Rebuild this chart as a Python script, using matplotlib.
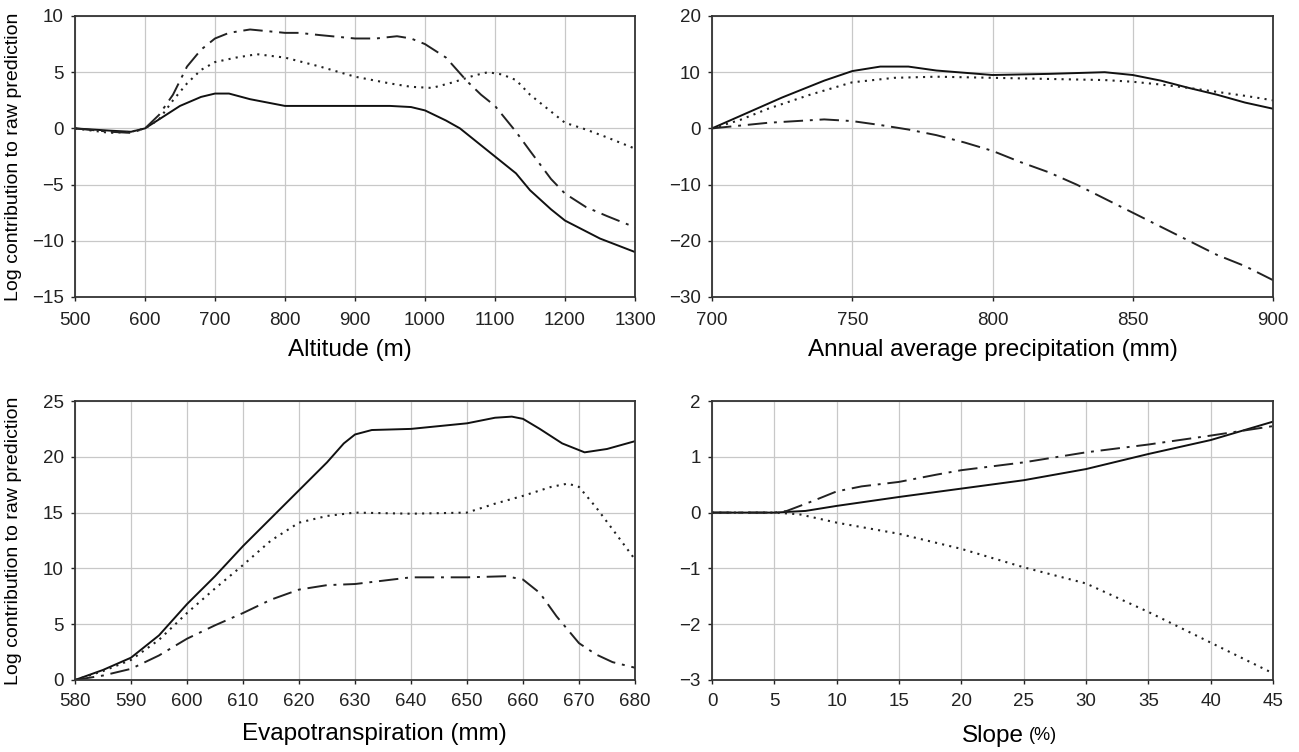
import numpy as np
import matplotlib.pyplot as plt

plt.rcParams['font.family'] = ['Liberation Sans', 'DejaVu Sans']

# --- Altitude panel ---
alt_x = [500, 550, 580, 600, 620, 650, 680, 700, 720, 750, 800, 850, 900, 950, 980, 1000,
         1030, 1050, 1080, 1100, 1130, 1150, 1180, 1200, 1250, 1300]
alt_solid = [0, -0.2, -0.3, 0, 0.8, 2.0, 2.8, 3.1, 3.1, 2.6, 2.0, 2.0, 2.0, 2.0, 1.9, 1.6,
             0.7, 0, -1.5, -2.5, -4.0, -5.5, -7.2, -8.2, -9.8, -11.0]
alt_dd_x = [500, 550, 580, 600, 620, 640, 660, 680, 700, 720, 750, 800, 820, 850, 900, 930,
            960, 980, 1000, 1030, 1060, 1080, 1100, 1130, 1150, 1180, 1200, 1230, 1260, 1300]
alt_dashdot = [0, -0.3, -0.4, 0, 1.2, 3.0, 5.5, 7.0, 8.0, 8.5, 8.8, 8.5, 8.5, 8.3, 8.0, 8.0,
               8.2, 8.0, 7.5, 6.3, 4.2, 3.0, 2.0, -0.3, -2.0, -4.5, -5.8, -7.0, -7.8, -8.8]
alt_dt_x = [500, 550, 580, 600, 620, 640, 660, 680, 700, 730, 760, 800, 850, 900, 950, 980,
            1010, 1040, 1070, 1090, 1110, 1130, 1150, 1180, 1200, 1230, 1260, 1300]
alt_dotted = [0, -0.4, -0.3, 0, 0.8, 2.5, 4.0, 5.2, 5.9, 6.3, 6.6, 6.3, 5.5, 4.6, 4.0, 3.7,
              3.6, 4.1, 4.7, 5.0, 4.8, 4.3, 3.0, 1.5, 0.5, -0.1, -0.8, -1.8]

# --- Precipitation panel ---
pr_sx = [700, 710, 725, 740, 750, 760, 770, 780, 800, 820, 840, 850, 860, 870, 880, 890, 900]
pr_solid = [0, 2.2, 5.5, 8.5, 10.2, 11.0, 11.0, 10.3, 9.5, 9.7, 10.0, 9.5, 8.5, 7.2, 6.0, 4.6, 3.5]
pr_tx = [700, 710, 720, 735, 750, 765, 780, 800, 820, 840, 850, 860, 870, 880, 890, 900]
pr_dotted = [0, 1.5, 3.5, 6.0, 8.2, 9.0, 9.2, 9.0, 8.8, 8.6, 8.3, 7.8, 7.2, 6.5, 5.8, 5.0]
pr_dx = [700, 720, 740, 750, 760, 770, 780, 790, 800, 810, 820, 830, 840, 850, 860, 870, 880, 890, 900]
pr_dashdot = [0, 1.0, 1.6, 1.3, 0.6, -0.2, -1.2, -2.5, -4.0, -6.0, -7.8, -10.0, -12.5, -15.0,
              -17.5, -20.0, -22.5, -24.5, -27.0]

# --- Evapotranspiration panel ---
ev_sx = [580, 585, 590, 595, 600, 605, 610, 615, 620, 625, 628, 630, 633, 640, 650, 655, 658,
         660, 663, 667, 671, 675, 680]
ev_solid = [0, 0.9, 2.0, 4.0, 6.8, 9.3, 12.0, 14.5, 17.0, 19.5, 21.2, 22.0, 22.4, 22.5, 23.0,
            23.5, 23.6, 23.4, 22.5, 21.2, 20.4, 20.7, 21.4]
ev_tx = [580, 585, 590, 595, 600, 605, 610, 615, 620, 625, 630, 640, 650, 655, 660, 665, 668,
         670, 673, 676, 680]
ev_dotted = [0, 0.8, 1.8, 3.6, 6.0, 8.2, 10.3, 12.5, 14.1, 14.7, 15.0, 14.9, 15.0, 15.8, 16.5,
             17.3, 17.6, 17.3, 15.5, 13.5, 10.8]
ev_dx = [580, 585, 590, 595, 600, 605, 610, 615, 620, 625, 630, 635, 640, 650, 657, 660, 663,
         666, 670, 673, 676, 680]
ev_dashdot = [0, 0.4, 1.0, 2.2, 3.7, 4.9, 6.0, 7.2, 8.1, 8.5, 8.6, 8.9, 9.2, 9.2, 9.3, 9.0, 7.8,
              5.7, 3.3, 2.3, 1.6, 1.1]

# --- Slope panel ---
sl_x = [0, 2, 5, 7.5, 10, 15, 20, 25, 30, 35, 40, 45]
sl_solid = [0, 0, 0, 0.03, 0.12, 0.28, 0.43, 0.58, 0.78, 1.05, 1.30, 1.63]
sl_dx = [0, 3, 5, 6, 8, 10, 12, 15, 18, 20, 25, 30, 35, 40, 45]
sl_dashdot = [0, 0, 0, 0.03, 0.2, 0.38, 0.47, 0.55, 0.68, 0.76, 0.90, 1.08, 1.22, 1.38, 1.55]
sl_tx = [0, 5, 7, 10, 15, 20, 25, 30, 35, 40, 45]
sl_dotted = [0, 0, -0.03, -0.18, -0.38, -0.65, -0.98, -1.27, -1.78, -2.33, -2.88]

DOT = (0, (1, 2.5))
DASHDOT = (0, (10, 3.5, 1.5, 3.5))

fig = plt.figure(figsize=(12.99, 7.52), dpi=100)
W, H = 1299, 752


def make_ax(l, t, r, b):
    return fig.add_axes([l / W, 1 - b / H, (r - l) / W, (b - t) / H])


axes = [make_ax(75, 16, 635, 297), make_ax(712, 16, 1273, 297),
        make_ax(75, 401, 635, 680), make_ax(712, 401, 1273, 680)]

panels = [
    (alt_x, alt_solid, alt_dt_x, alt_dotted, alt_dd_x, alt_dashdot,
     (500, 1300), np.arange(500, 1301, 100), (-15, 10), np.arange(-15, 11, 5)),
    (pr_sx, pr_solid, pr_tx, pr_dotted, pr_dx, pr_dashdot,
     (700, 900), np.arange(700, 901, 50), (-30, 20), np.arange(-30, 21, 10)),
    (ev_sx, ev_solid, ev_tx, ev_dotted, ev_dx, ev_dashdot,
     (580, 680), np.arange(580, 681, 10), (0, 25), np.arange(0, 26, 5)),
    (sl_x, sl_solid, sl_tx, sl_dotted, sl_dx, sl_dashdot,
     (0, 45), np.arange(0, 46, 5), (-3, 2), np.arange(-3, 3, 1)),
]

for i, (ax, p) in enumerate(zip(axes, panels)):
    sx, sy, tx, ty, dx, dy, xl, xt, yl, yt = p
    ax.plot(sx, sy, color='#111111', lw=1.4, ls='-')
    ax.plot(tx, ty, color='#222222', lw=1.5, ls=DOT)
    ax.plot(dx, dy, color='#222222', lw=1.4, ls=DASHDOT)
    ax.set_xlim(*xl)
    ax.set_ylim(*yl)
    ax.set_xticks(xt)
    ax.set_yticks(yt)
    ax.grid(True, color='#c8c8c8', lw=0.9)
    ax.set_axisbelow(True)
    for s in ax.spines.values():
        s.set_color('#333333')
        s.set_linewidth(1.3)
    ax.tick_params(length=3, width=1, labelsize=13.5, colors='#222222')
    ax.tick_params(axis='y', pad=5)
    ax.tick_params(axis='x', pad=8 if i < 2 else 6)

axes[0].set_xlabel('Altitude (m)', fontsize=17.5, labelpad=7)
axes[0].xaxis.label.set_x(0.491)
axes[1].set_xlabel('Annual average precipitation (mm)', fontsize=17.5, labelpad=7)
axes[2].set_xlabel('Evapotranspiration (mm)', fontsize=17.5, labelpad=10)
axes[2].xaxis.label.set_x(0.535)
for ax in (axes[0], axes[2]):
    ax.set_ylabel('Log contribution to raw prediction', fontsize=14)
    ax.yaxis.set_label_coords(-0.095, 0.5)
axes[3].text(0.556, -0.2, 'Slope', transform=axes[3].transAxes, ha='right', va='center',
             fontsize=17.5)
axes[3].text(0.565, -0.2, '(%)', transform=axes[3].transAxes, ha='left', va='center',
             fontsize=13)

fig.savefig('out.png', dpi=100)
